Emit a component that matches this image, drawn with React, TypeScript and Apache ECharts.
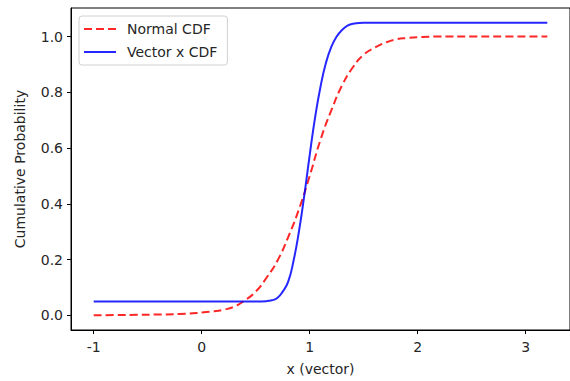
import React, { useEffect, useRef } from "react";
import * as echarts from "echarts";

const xTicks = [-1, 0, 1, 2, 3];
const xTickLabels = ["-1", "0", "1", "2", "3"];
const yTicks = [0, 0.2, 0.4, 0.6, 0.8, 1.0];
const yTickLabels = ["0.0", "0.2", "0.4", "0.6", "0.8", "1.0"];

const normalX = [-1, -0.8, -0.6, -0.4, -0.2, 0, 0.1, 0.2, 0.3, 0.4, 0.5, 0.6, 0.7, 0.8, 0.9, 1.0, 1.1, 1.2, 1.3, 1.4, 1.5, 1.6, 1.7, 1.8, 1.9, 2.0, 2.2, 2.5, 2.8, 3.2];
const normalY = [0.0, 0.001, 0.002, 0.003, 0.005, 0.01, 0.014, 0.02, 0.031, 0.054, 0.085, 0.135, 0.195, 0.28, 0.38, 0.5, 0.63, 0.735, 0.825, 0.89, 0.935, 0.96, 0.978, 0.99, 0.995, 0.998, 1.0, 1.0, 1.0, 1.0];

const vectorX = [-1, 0, 0.5, 0.6, 0.65, 0.7, 0.75, 0.8, 0.85, 0.9, 0.95, 1.0, 1.05, 1.1, 1.15, 1.2, 1.25, 1.3, 1.35, 1.4, 1.5, 2.0, 3.2];
const vectorY = [0.05, 0.05, 0.05, 0.051, 0.054, 0.062, 0.085, 0.12, 0.195, 0.3, 0.43, 0.575, 0.71, 0.82, 0.905, 0.963, 1.0, 1.024, 1.039, 1.046, 1.05, 1.05, 1.05];

const seriesNames = ["Normal CDF", "Vector x CDF"];

const FONT = "DejaVu Sans";
const TEXT = "#262626";
const FS = 14;

export default function App() {
  const ref = useRef<HTMLDivElement>(null);
  useEffect(() => {
    if (!ref.current) return;
    const chart = echarts.init(ref.current, null, { renderer: "svg" });
    const normalData = normalX.map((x, i) => [x, normalY[i]]);
    const vectorData = vectorX.map((x, i) => [x, vectorY[i]]);
    chart.setOption({
      animation: false,
      backgroundColor: "#fff",
      textStyle: { fontFamily: FONT },
      grid: {
        left: 71,
        right: 0,
        top: 8,
        bottom: 48,
        show: true,
        borderColor: "#000",
        borderWidth: 1,
        backgroundColor: "transparent",
      },
      legend: {
        show: true,
        orient: "vertical",
        left: 79,
        top: 16,
        padding: [6, 10, 6, 4],
        itemGap: 9,
        itemWidth: 32,
        itemHeight: 14,
        borderColor: "#d0d0d0",
        borderWidth: 1,
        borderRadius: 3,
        backgroundColor: "#fff",
        itemStyle: { opacity: 0 },
        textStyle: { fontFamily: FONT, fontSize: FS, color: TEXT, padding: [0, 0, 0, 6] },
        data: seriesNames,
      },
      xAxis: {
        type: "value",
        min: -1.21,
        max: 3.41,
        name: "x (vector)",
        nameLocation: "middle",
        nameGap: 32,
        nameTextStyle: { fontFamily: FONT, fontSize: FS, color: TEXT },
        axisLine: { show: true, onZero: false, lineStyle: { color: "#000", width: 1 } },
        axisTick: { show: true, length: 4, lineStyle: { color: "#000" }, customValues: xTicks },
        axisLabel: {
          show: true,
          customValues: xTicks,
          fontFamily: FONT,
          fontSize: FS,
          color: TEXT,
          margin: 10,
          formatter: (v: number) => {
            const i = xTicks.findIndex((t) => Math.abs(t - v) < 1e-9);
            return i >= 0 ? xTickLabels[i] : "";
          },
        },
        splitLine: { show: false },
      },
      yAxis: {
        type: "value",
        min: -0.0525,
        max: 1.1025,
        name: "Cumulative Probability",
        nameLocation: "middle",
        nameGap: 44,
        nameTextStyle: { fontFamily: FONT, fontSize: FS, color: TEXT },
        axisLine: { show: true, onZero: false, lineStyle: { color: "#000", width: 1 } },
        axisTick: { show: true, length: 4, lineStyle: { color: "#000" }, customValues: yTicks },
        axisLabel: {
          show: true,
          customValues: yTicks,
          fontFamily: FONT,
          fontSize: FS,
          color: TEXT,
          margin: 8,
          formatter: (v: number) => {
            const i = yTicks.findIndex((t) => Math.abs(t - v) < 1e-9);
            return i >= 0 ? yTickLabels[i] : "";
          },
        },
        splitLine: { show: false },
      },
      series: [
        {
          name: seriesNames[0],
          type: "line",
          data: normalData,
          smooth: 0.5,
          symbol: "none",
          lineStyle: { color: "rgba(255,0,0,0.85)", width: 2, type: [8, 4] },
          itemStyle: { color: "rgba(255,0,0,0.85)" },
        },
        {
          name: seriesNames[1],
          type: "line",
          data: vectorData,
          smooth: 0.5,
          symbol: "none",
          lineStyle: { color: "rgba(0,0,255,0.85)", width: 2, type: "solid" },
          itemStyle: { color: "rgba(0,0,255,0.85)" },
        },
      ],
    });
    return () => chart.dispose();
  }, []);
  return (
    <div
      ref={ref}
      style={{ position: "fixed", left: 0, top: 0, width: 570, height: 381, background: "#fff" }}
    />
  );
}
